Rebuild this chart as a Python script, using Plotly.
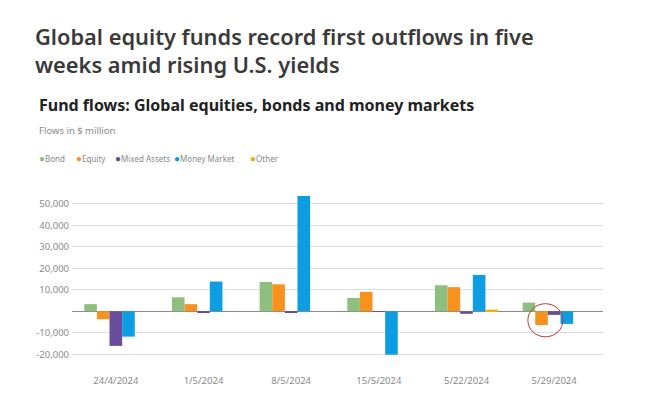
import plotly.graph_objects as go

dates = ["24/4/2024", "1/5/2024", "8/5/2024", "15/5/2024", "5/22/2024", "5/29/2024"]
bond = [3300, 6500, 13600, 6200, 12100, 4000]
equity = [-3700, 3300, 12500, 9000, 11200, -6400]
mixed = [-16100, -500, -500, -200, -1200, -1700]
money = [-11800, 13800, 53600, -20200, 16900, -5900]
other = [0, 0, 0, 0, 750, 0]

tick_vals = [-20000, -10000, 0, 10000, 20000, 30000, 40000, 50000]
tick_text = ["-20,000", "-10,000", "", "10,000", "20,000", "30,000", "40,000", "50,000"]

series = [
    ("Bond", bond, "#8fbf7f"),
    ("Equity", equity, "#f7921e"),
    ("Mixed Assets", mixed, "#6a4c9c"),
    ("Money Market", money, "#0d9de3"),
    ("Other", other, "#e8b10e"),
]

fig = go.Figure()
for name, vals, col in series:
    fig.add_trace(go.Bar(x=dates, y=vals, name=name, marker_color=col, marker_line_width=0))

FONT = "Noto Sans"
OFF = 8  # page body margin
W, H = 661 - OFF, 405 - OFF
plot_left, plot_top, plot_right, plot_bottom = 72 - OFF, 185 - OFF, 603 - OFF, 365 - OFF
plot_w, plot_h = plot_right - plot_left, plot_bottom - plot_top

def px(x):
    return (x - OFF - plot_left) / plot_w

def py(y):
    return (plot_bottom - (y - OFF)) / plot_h

fig.update_layout(
    width=W, height=H,
    margin=dict(l=plot_left, r=W - plot_right, t=plot_top, b=H - plot_bottom),
    paper_bgcolor="white", plot_bgcolor="white",
    barmode="group", bargap=0.28, bargroupgap=0,
    showlegend=False,
    font=dict(family=FONT, color="#888888", size=10),
    xaxis=dict(type="category", range=[-0.5, 5.557], showgrid=False, showline=False,
               ticks="", tickfont=dict(size=9.5, color="#8a8a8a"), ticklabelstandoff=8),
    yaxis=dict(range=[-25000, 58700], tickvals=tick_vals, ticktext=tick_text,
               showgrid=True, gridcolor="#dcdcdc", gridwidth=1,
               zeroline=True, zerolinecolor="#8a8a8a", zerolinewidth=1,
               tickfont=dict(size=9.5, color="#8a8a8a"), ticks="", ticklabelstandoff=2),
)

fig.add_annotation(xref="paper", yref="paper", x=px(33), y=py(20), xanchor="left", yanchor="top",
                   text="Global equity funds record first outflows in five<br>weeks amid rising U.S. yields",
                   showarrow=False, align="left",
                   font=dict(family=FONT, size=21.8, color="#3a3a3a", weight=600))
fig.add_annotation(xref="paper", yref="paper", x=px(37), y=py(92), xanchor="left", yanchor="top",
                   text="<b>Fund flows: Global equities, bonds and money markets</b>",
                   showarrow=False, align="left",
                   font=dict(family=FONT, size=16, color="#222222"))
fig.add_annotation(xref="paper", yref="paper", x=px(37), y=py(122), xanchor="left", yanchor="top",
                   text="Flows in $ million",
                   showarrow=False, align="left",
                   font=dict(family=FONT, size=9.5, color="#8a8a8a"))

legend_x = [37, 74, 113, 172, 248]
for (name, vals, col), lx in zip(series, legend_x):
    fig.add_annotation(xref="paper", yref="paper", x=px(lx), y=py(158), xanchor="left", yanchor="middle",
                       text=f"<span style='color:{col};font-size:10px'>●</span>{name}", showarrow=False,
                       font=dict(family=FONT, size=8, color="#8a8a8a"))

# Red circle around the last Equity bar
eq_last = equity[-1]
cx = len(dates) - 1 - 0.10
fig.add_shape(type="circle", xref="x", yref="y",
              x0=cx - 0.2, x1=cx + 0.2, y0=eq_last / 2 - 7700 - 1000, y1=eq_last / 2 + 7700 - 1000,
              line=dict(color="#c0393b", width=1))

fig.write_html("out.html")
